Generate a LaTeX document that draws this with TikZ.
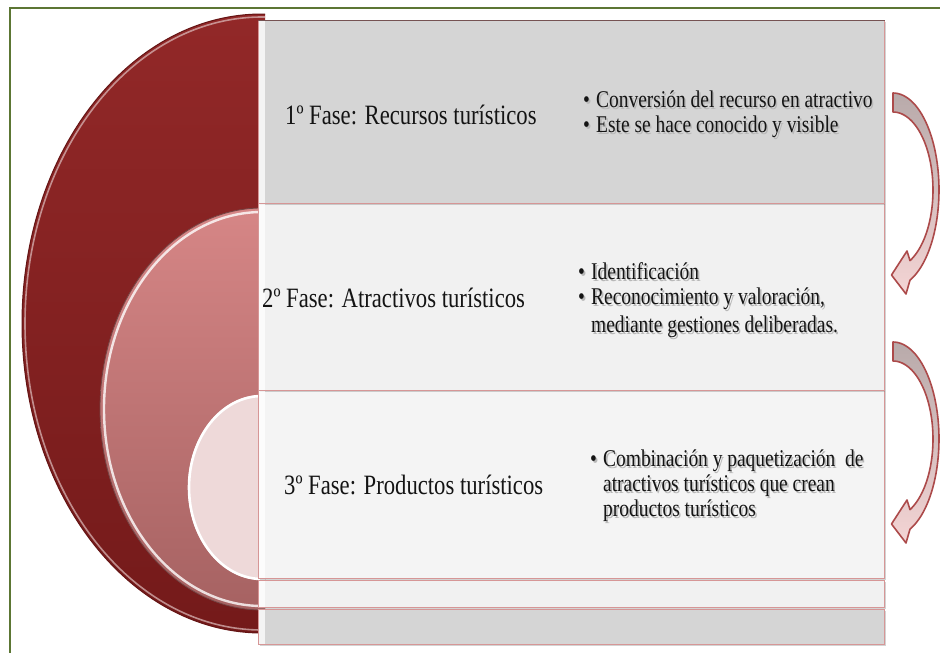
\documentclass[tikz,border=0pt]{standalone}
\usepackage{fontspec}
\setmainfont{Liberation Serif}
\newfontfamily\phasefont[FakeStretch=0.81]{Liberation Serif}
\usetikzlibrary{shadows}

\definecolor{frameolive}{RGB}{92,118,52}
\definecolor{deepred}{RGB}{146,40,40}
\definecolor{deepredlow}{RGB}{116,26,26}
\definecolor{deepedge}{RGB}{100,20,20}
\definecolor{midredtop}{RGB}{214,134,134}
\definecolor{midredlow}{RGB}{166,98,98}
\definecolor{palepink}{RGB}{238,217,217}
\definecolor{rowdark}{RGB}{213,213,213}
\definecolor{rowlight}{RGB}{241,241,241}
\definecolor{rowpale}{RGB}{244,244,244}
\definecolor{rowedge}{RGB}{214,150,150}
\definecolor{arrowline}{RGB}{172,74,74}
\definecolor{arrowtop}{RGB}{184,170,170}
\definecolor{arrowlow}{RGB}{244,212,212}

% text with a soft offset shadow
\newcommand\shtxt[1]{\makebox[0pt][l]{\hspace{1.6pt}\raisebox{-1.6pt}{\textcolor{black!28}{#1}}}#1}
\newcommand\bulletline[1]{\makebox[13pt][l]{•}#1}

% curved block arrow (thick tail at the top, head at the bottom pointing left), shifted down by #1
\newcommand\curvedarrow[1]{%
  \shade[top color=arrowtop, bottom color=arrowlow, draw=arrowline, line width=1.6, line join=round]
    plot[domain=90:-68.3, samples=50] ({893+46*cos(\x)}, {190+#1-97*sin(\x)})
    -- (906,294+#1) -- (891.5,275+#1) -- (907,251+#1)
    -- plot[domain=-64.85:90, samples=50] ({893+40*cos(\x)}, {190+#1-78*sin(\x)})
    -- cycle;}

\begin{document}
\begin{tikzpicture}[x=1pt, y=-1pt,
  rowbox/.style={draw=rowedge, line width=0.8, inner sep=0, anchor=north west,
    minimum width=626,
    drop shadow={shadow xshift=1.5pt, shadow yshift=-2pt, opacity=0.35}},
  phase/.style={font=\phasefont\fontsize{28}{30}\selectfont, inner sep=0, anchor=west, text=black!92},
  bul/.style={font=\phasefont\fontsize{24}{28}\selectfont, inner sep=0, anchor=west, text=black!92}]

\useasboundingbox (0,0) rectangle (940,653);

% outer frame
\draw[frameolive, line width=2] (10,660) -- (10,8) -- (945,8);

% nested half ellipses on the left
\begin{scope}
  \clip (0,0) rectangle (265,653);
  \shade[top color=deepred, bottom color=deepredlow] (262,323.5) ellipse [x radius=240, y radius=309.5];
  \draw[deepedge, line width=1] (262,323.5) ellipse [x radius=240, y radius=309.5];
  \draw[white!70!deepred, line width=1.6, opacity=0.7] (262,323.5) ellipse [x radius=237, y radius=306.5];
  \shade[top color=midredtop, bottom color=midredlow] (262,409) ellipse [x radius=162, y radius=201];
  \draw[midredlow!70!black, line width=0.8] (262,409) ellipse [x radius=162, y radius=201];
  \draw[white, line width=2.4, opacity=0.8] (262,409) ellipse [x radius=158, y radius=197];
  \fill[palepink] (262,487.5) ellipse [x radius=74, y radius=92.5];
  \draw[white, line width=2.6] (262,487.5) ellipse [x radius=73, y radius=91.5];
\end{scope}

% stacked rows
\node[rowbox, fill=rowdark,  minimum height=35]  (r5) at (258,609) {};
\node[rowbox, fill=rowlight, minimum height=27]  (r4) at (258,580) {};
\node[rowbox, fill=rowpale,  minimum height=188] (r3) at (258,390) {};
\node[rowbox, fill=rowlight, minimum height=187] (r2) at (258,203) {};
\node[rowbox, fill=rowdark,  minimum height=183] (r1) at (258,20) {};
\draw[black!45!rowedge, line width=1] (r1.north west) -- (r1.north east);

% lighter strips along the left side of each row
\foreach \ya/\yb in {20.5/202.5, 203.5/389.5, 390.5/577.5, 580.5/606.5, 609.5/643.5}
  \fill[white, opacity=0.75] (258.5,\ya) rectangle (265,\yb);

% phase labels
\node[phase] (p1) at (285,115) {1º Fase: Recursos turísticos};
\node[phase] (p2) at (262,298) {2º Fase: Atractivos turísticos};
\node[phase] (p3) at (284,485) {3º Fase: Productos turísticos};

% bullet text
\node[bul] (b11) at (583,100) {\shtxt{\bulletline{Conversión del recurso en atractivo}}};
\node[bul] (b12) at (583,128) {\shtxt{\bulletline{Este se hace conocido y visible}}};

\node[bul] (b21) at (578,272) {\shtxt{\bulletline{Identificación}}};
\node[bul] (b22) at (578,300) {\shtxt{\bulletline{Reconocimiento y valoración,}}};
\node[bul] (b23) at (591,328) {\shtxt{mediante gestiones deliberadas.}};

\node[bul] (b31) at (590,462) {\shtxt{\bulletline{Combinación y paquetización \ de}}};
\node[bul] (b32) at (603,487) {\shtxt{atractivos turísticos que crean}};
\node[bul] (b33) at (603,512) {\shtxt{productos turísticos}};

% curved arrows between phases
\curvedarrow{0}
\curvedarrow{249}

\end{tikzpicture}
\end{document}
